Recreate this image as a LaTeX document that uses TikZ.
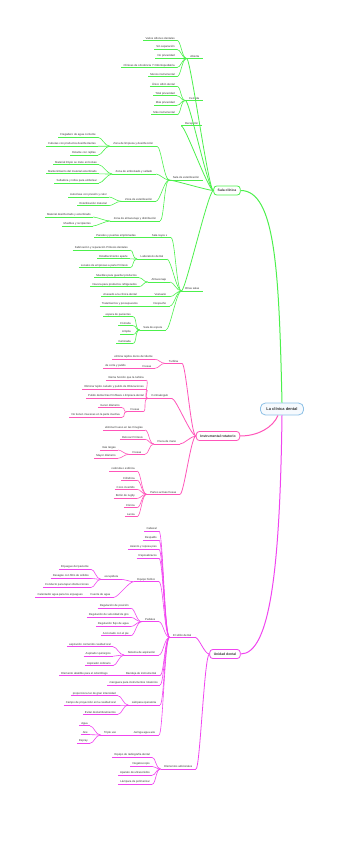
\documentclass[tikz,border=0pt]{standalone}
\usepackage{fontspec}
\setmainfont{Liberation Sans}
\usepackage{xcolor}
\usetikzlibrary{positioning}
\definecolor{clinicGreen}{HTML}{4CF04C}
\definecolor{rotaryPink}{HTML}{FF55B9}
\definecolor{unitMagenta}{HTML}{F044F0}
\definecolor{rootBlue}{HTML}{8CC0E6}
\definecolor{softBlue}{HTML}{F6FAFE}
\definecolor{inkGray}{HTML}{333333}

\begin{document}
\begin{tikzpicture}[x=1pt,y=-1pt,
    topic/.style={anchor=south east,font=\fontsize{2.8}{3.2}\selectfont,text=inkGray,
      inner xsep=2pt,inner ysep=0.8pt,
      append after command={\pgfextra{\let\thistopic\tikzlastnode}
        (\thistopic.south west) edge[draw=#1,line width=1pt] (\thistopic.south east)}},
    gtopic/.style={topic=clinicGreen},
    ptopic/.style={topic=rotaryPink},
    mtopic/.style={topic=unitMagenta},
    hubtopic/.style={topic=#1,inner xsep=3.5pt},
    mainbox/.style={draw=#1,line width=0.8pt,rounded corners=3pt,fill=white,text=inkGray,
      font=\fontsize{3.4}{4}\selectfont\bfseries,inner xsep=4pt,minimum height=9pt,inner ysep=1pt},
    rootbox/.style={draw=rootBlue,line width=0.8pt,rounded corners=5pt,fill=softBlue,text=inkGray,
      font=\fontsize{4}{5}\selectfont\bfseries,inner xsep=6pt,minimum height=12pt},
    forkline/.style={to path={.. controls +(4,0) and +(-5,0) .. (\tikztotarget)}},
    link/.style={draw=#1,line width=0.6pt,forkline},
    glink/.style={link=clinicGreen},
    plink/.style={link=rotaryPink},
    mlink/.style={link=unitMagenta},
    rootlink/.style={draw=#1,line width=1pt}
  ]
  \useasboundingbox (0,0) rectangle (342,848);

  % root
  \node[rootbox] (root) at (282,409) {La clínica dental};

  % Sala clinica
  \node[mainbox=clinicGreen] (sala) at (227,190.5) {Sala clínica};
  \node[hubtopic=clinicGreen] (abierta) at (203,58.5) {Abierta};
  \node[hubtopic=clinicGreen] (cerrada) at (203,100.5) {Cerrada};
  \node[hubtopic=clinicGreen] (recepcion) at (202,126) {Recepción};
  \node[hubtopic=clinicGreen] (esteril) at (203,180) {Sala de esterilización};
  \node[hubtopic=clinicGreen] (otras) at (203,291) {Otras salas};
  \foreach \t [count=\i] in {Varios sillones dentales,Sin separación,No privacidad,
      Clínicas de ortodoncia Y Odontopediatría,Menos instrumental}
    \node[gtopic] (ab\i) at (177,31.2+9.1*\i) {\t};
  \foreach \t [count=\i] in {Único sillón dental,Total privacidad,Más privacidad,Más instrumental}
    \node[gtopic] (ce\i) at (177,76.8+9.5*\i) {\t};

  \node[hubtopic=clinicGreen] (limpieza) at (157,146.2) {Zona de limpieza y desinfección};
  \node[hubtopic=clinicGreen] (embolsado) at (156,174) {Zona de embolsado y sellado};
  \node[hubtopic=clinicGreen] (zonaester) at (156,201.3) {Zona de esterilización};
  \node[hubtopic=clinicGreen] (distrib) at (160,221) {Zona de almacenaje y distribución};
  \foreach \t [count=\i] in {Fregadero de agua corriente,Cubetas con productos desinfectantes,
      Estante con rejillas}
    \node[gtopic] (li\i) at (98,128.4+8.9*\i) {\t};
  \foreach \t [count=\i] in {Material limpio se mete en bolsas,Mantenimiento del material esterilizado,
      Selladora y rollos para embolsar}
    \node[gtopic] (em\i) at (99,155.7+9.1*\i) {\t};
  \foreach \t [count=\i] in {Autoclave con presión y calor,Esterilización material}
    \node[gtopic] (es\i) at (109,188.4+8.6*\i) {\t};
  \foreach \t [count=\i] in {Material desinfectado y esterilizado,Muebles y recipientes}
    \node[gtopic] (al\i) at (93,208+9*\i) {\t};

  \node[hubtopic=clinicGreen] (rayos) at (171,237.7) {Sala rayos x};
  \node[hubtopic=clinicGreen] (lab) at (167,259) {Laboratorio dental};
  \node[hubtopic=clinicGreen] (almacenaje) at (170,282) {Almacenaje};
  \node[hubtopic=clinicGreen] (vestuario) at (170,296.7) {Vestuario};
  \node[hubtopic=clinicGreen] (despacho) at (170,306) {Despacho};
  \node[hubtopic=clinicGreen] (espera) at (166,330) {Sala de espera};
  \node[gtopic] (ra1) at (138,237.7) {Paredes y puertas emplomadas};
  \foreach \t [count=\i] in {Fabricación y reparación Prótesis dentales,Establecimiento aparte,
      Locales de empresas a parte Prótesis}
    \node[gtopic] (la\i) at (130,241.1+8.9*\i) {\t};
  \foreach \t [count=\i] in {Muebles para guardar productos,Nevera para productos refrigerados}
    \node[gtopic] (am\i) at (139,268.7+9*\i) {\t};
  \node[gtopic] (ve1) at (139,296.7) {Anexado a la clínica dental};
  \node[gtopic] (de1) at (140,306) {Tratamientos y presupuestos};
  \foreach \t [count=\i] in {espera de pacientes,Cómoda,Amplia,Iluminada}
    \node[gtopic] (sp\i) at (133,307.8+8.9*\i) {\t};

  % Instrumental rotatorio
  \node[mainbox=rotaryPink] (instr) at (218,436) {Instrumental rotatorio};
  \node[hubtopic=rotaryPink] (turbina) at (182,363.3) {Turbina};
  \node[hubtopic=rotaryPink] (contra) at (172,398.5) {Contraángulo};
  \node[hubtopic=rotaryPink] (pieza) at (180,444) {Pieza de mano};
  \node[hubtopic=rotaryPink] (partes) at (180,494.3) {Partes activas fresas};
  \node[ptopic] (tu1) at (155,359.3) {elimina tejidos duros del diente};
  \node[hubtopic=rotaryPink] (tufresas) at (155,368.3) {Fresas};
  \node[ptopic] (tf1) at (128,368.3) {de corte y pulido};
  \foreach \t [count=\i] in {misma función que la turbina,Eliminar tejido cariado y pulido de Obturaciones,
      Pulido dental tras Profilaxis o limpieza dental}
    \node[ptopic] (co\i) at (146,371+9.1*\i) {\t};
  \node[hubtopic=rotaryPink] (cofresas) at (143,411.7) {Fresas};
  \foreach \t [count=\i] in {menor diámetro,No tienen muescas en la parte inactiva}
    \node[ptopic] (cf\i) at (122,398.1+9.6*\i) {\t};
  \foreach \t [count=\i] in {eliminar hueso en las Cirugías,Retocar Prótesis}
    \node[ptopic] (pi\i) at (145,420.7+9.3*\i) {\t};
  \node[hubtopic=rotaryPink] (pifresas) at (145,454.3) {Fresas};
  \foreach \t [count=\i] in {más largas,Mayor diámetro}
    \node[ptopic] (pf\i) at (118,441.7+8.3*\i) {\t};
  \foreach \t [count=\i] in {redonda o esférica,Cilíndrica,Cono invertido,Botón de rugby,Cónica,Lanza}
    \node[ptopic] (pa\i) at (137,461.85+9.15*\i) {\t};

  % Unidad dental
  \node[mainbox=unitMagenta] (unidad) at (225,654) {Unidad dental};
  \node[hubtopic=unitMagenta] (sillon) at (195,637.3) {El sillón dental};
  \node[hubtopic=unitMagenta] (adicional) at (196,769) {Elementos adicionales};
  \node[mtopic] (cabezal) at (159,531) {Cabezal};
  \node[mtopic] (respaldo) at (159,540) {Respaldo};
  \node[mtopic] (asiento) at (159,549.3) {Asiento y reposa pies};
  \node[mtopic] (brazos) at (159,558.3) {Reposabrazos};
  \node[hubtopic=unitMagenta] (hidrico) at (159,581.7) {Equipo hídrico};
  \node[hubtopic=unitMagenta] (pedales) at (159,621.7) {Pedales};
  \node[hubtopic=unitMagenta] (aspira) at (159,655) {Sistema de aspiración};
  \node[hubtopic=unitMagenta] (bandeja) at (160,675.7) {Bandeja de instrumental};
  \node[mtopic] (manguera) at (160,685) {manguera para instrumentos rotatorios};
  \node[hubtopic=unitMagenta] (lampara) at (160,705) {Lámpara operatoria};
  \node[hubtopic=unitMagenta] (jeringa) at (159,735) {Jeringa agua aire};
  \node[hubtopic=unitMagenta] (escupidera) at (122,579.3) {escupidera};
  \foreach \t [count=\i] in {Enjuague del paciente,Desagüe con filtro de sólidos,
      Conducto para tapar obstrucciones}
    \node[mtopic] (ec\i) at (91,560.2+9.1*\i) {\t};
  \node[hubtopic=unitMagenta] (fuente) at (114,597.3) {Fuente de agua};
  \node[mtopic] (fu1) at (85,597.3) {Calentador agua para los enjuagues};
  \foreach \t [count=\i] in {Regulación de posición,Regulación de velocidad de giro,
      Regulación flujo de agua,Accionado con el pie}
    \node[mtopic] (pe\i) at (131,599.2+9.1*\i) {\t};
  \foreach \t [count=\i] in {aspiración contenido cavidad oral,Aspirador quirúrgico,Aspirador ordinario}
    \node[mtopic] (as\i) at (113,637.2+9.5*\i) {\t};
  \node[mtopic] (ba1) at (110,675.7) {Elemento abatible para el odontólogo};
  \foreach \t [count=\i] in {proporciona luz de gran intensidad,Campo de proyección en la cavidad oral,
      Evitar deslumbramientos}
    \node[mtopic] (lp\i) at (118,686.4+9.3*\i) {\t};
  \node[hubtopic=unitMagenta] (triple) at (120,735) {Triple uso};
  \foreach \t [count=\i] in {Agua,Aire,Espray}
    \node[mtopic] (tr\i) at (90,717.2+8.7*\i) {\t};
  \foreach \t [count=\i] in {Equipo de radiografía dental,Negatoscopio,Aparato de ultrasonidos,
      Lámpara de polimerizar}
    \node[mtopic] (ad\i) at (152,748.3+9*\i) {\t};

  % connectors: root
  \draw[rootlink=clinicGreen] (sala.east) .. controls +(35,0) and +(-3,-130) .. (root.north);
  \draw[rootlink=rotaryPink] ([xshift=-4pt]root.south) .. controls +(-5,12) and +(18,0) .. (instr.east);
  \draw[rootlink=unitMagenta] (root.south) .. controls +(-2,150) and +(30,0) .. (unidad.east);

  % connectors: Sala clinica
  \foreach \c in {abierta,cerrada,recepcion,esteril,otras}
    \draw[glink,line width=0.8pt] (\c.south west) to[forkline] (sala.west);
  \foreach \i in {1,...,5} \draw[glink] (ab\i.south east) to (abierta.south west);
  \foreach \i in {1,...,4} \draw[glink] (ce\i.south east) to (cerrada.south west);
  \foreach \c in {limpieza,embolsado,zonaester,distrib}
    \draw[glink] (\c.south east) to (esteril.south west);
  \foreach \i in {1,2,3} \draw[glink] (li\i.south east) to (limpieza.south west);
  \foreach \i in {1,2,3} \draw[glink] (em\i.south east) to (embolsado.south west);
  \foreach \i in {1,2} \draw[glink] (es\i.south east) to (zonaester.south west);
  \foreach \i in {1,2} \draw[glink] (al\i.south east) to (distrib.south west);
  \foreach \c in {rayos,lab,almacenaje,vestuario,despacho,espera}
    \draw[glink] (\c.south east) to (otras.south west);
  \draw[glink] (ra1.south east) to (rayos.south west);
  \foreach \i in {1,2,3} \draw[glink] (la\i.south east) to (lab.south west);
  \foreach \i in {1,2} \draw[glink] (am\i.south east) to (almacenaje.south west);
  \draw[glink] (ve1.south east) to (vestuario.south west);
  \draw[glink] (de1.south east) to (despacho.south west);
  \foreach \i in {1,...,4} \draw[glink] (sp\i.south east) to (espera.south west);

  % connectors: Instrumental rotatorio
  \foreach \c in {turbina,contra,pieza,partes}
    \draw[plink,line width=0.8pt] (\c.south east) to (instr.west);
  \foreach \c in {tu1,tufresas} \draw[plink] (\c.south east) to (turbina.south west);
  \draw[plink] (tf1.south east) to (tufresas.south west);
  \foreach \c in {co1,co2,co3,cofresas} \draw[plink] (\c.south east) to (contra.south west);
  \foreach \i in {1,2} \draw[plink] (cf\i.south east) to (cofresas.south west);
  \foreach \c in {pi1,pi2,pifresas} \draw[plink] (\c.south east) to (pieza.south west);
  \foreach \i in {1,2} \draw[plink] (pf\i.south east) to (pifresas.south west);
  \foreach \i in {1,...,6} \draw[plink] (pa\i.south east) to (partes.south west);

  % connectors: Unidad dental
  \foreach \c in {sillon,adicional}
    \draw[mlink,line width=0.8pt] (\c.south east) to (unidad.west);
  \foreach \c in {cabezal,respaldo,asiento,brazos,hidrico,pedales,aspira,bandeja,manguera,lampara,jeringa}
    \draw[mlink] (\c.south east) to (sillon.south west);
  \foreach \c in {escupidera,fuente} \draw[mlink] (\c.south east) to (hidrico.south west);
  \foreach \i in {1,2,3} \draw[mlink] (ec\i.south east) to (escupidera.south west);
  \draw[mlink] (fu1.south east) to (fuente.south west);
  \foreach \i in {1,...,4} \draw[mlink] (pe\i.south east) to (pedales.south west);
  \foreach \i in {1,2,3} \draw[mlink] (as\i.south east) to (aspira.south west);
  \draw[mlink] (ba1.south east) to (bandeja.south west);
  \foreach \i in {1,2,3} \draw[mlink] (lp\i.south east) to (lampara.south west);
  \draw[mlink] (triple.south east) to (jeringa.south west);
  \foreach \i in {1,2,3} \draw[mlink] (tr\i.south east) to (triple.south west);
  \foreach \i in {1,...,4} \draw[mlink] (ad\i.south east) to (adicional.south west);
\end{tikzpicture}
\end{document}
